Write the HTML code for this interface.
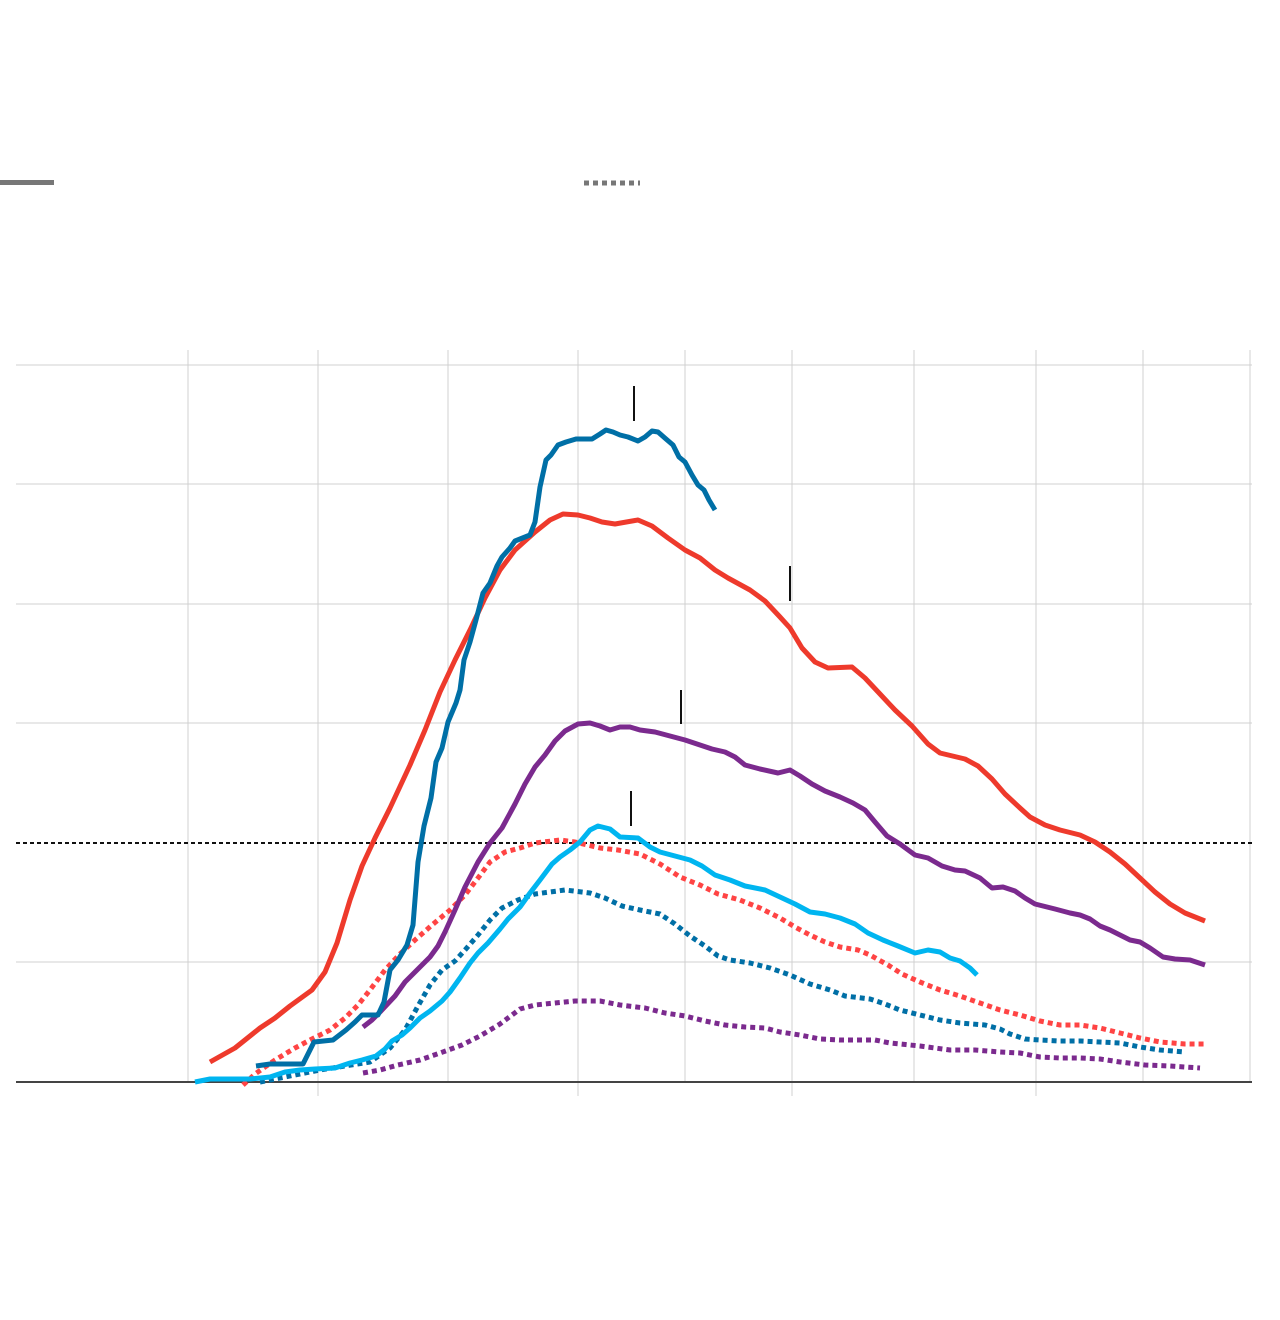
<!DOCTYPE html>
<html><head><meta charset="utf-8"><style>html,body{margin:0;padding:0;background:#fff}svg{display:block}</style></head>
<body>
<svg width="1280" height="1320" viewBox="0 0 1280 1320" xmlns="http://www.w3.org/2000/svg">
<g stroke="#d0d0d0" stroke-width="1">
<line x1="188" y1="350" x2="188" y2="1082"/>
<line x1="318" y1="350" x2="318" y2="1096"/>
<line x1="448" y1="350" x2="448" y2="1082"/>
<line x1="578" y1="350" x2="578" y2="1096"/>
<line x1="685" y1="350" x2="685" y2="1082"/>
<line x1="792" y1="350" x2="792" y2="1096"/>
<line x1="914" y1="350" x2="914" y2="1082"/>
<line x1="1036" y1="350" x2="1036" y2="1096"/>
<line x1="1143" y1="350" x2="1143" y2="1082"/>
<line x1="1250" y1="350" x2="1250" y2="1082"/>
<line x1="16" y1="365" x2="1252" y2="365"/>
<line x1="16" y1="484" x2="1252" y2="484"/>
<line x1="16" y1="604" x2="1252" y2="604"/>
<line x1="16" y1="723" x2="1252" y2="723"/>
<line x1="16" y1="962" x2="1252" y2="962"/>
</g>
<line x1="16" y1="843" x2="1252" y2="843" stroke="#111" stroke-width="2" stroke-dasharray="4 3"/>
<line x1="16" y1="1082" x2="1252" y2="1082" stroke="#444" stroke-width="2"/>
<line x1="0" y1="182.5" x2="54" y2="182.5" stroke="#777" stroke-width="5"/>
<line x1="584" y1="183" x2="640" y2="183" stroke="#777" stroke-width="5" stroke-dasharray="5 4"/>
<g fill="none" stroke-width="5" stroke-linejoin="round">
<polyline stroke="#f44" stroke-dasharray="5 4" points="243,1085 255,1074 275,1060 295,1048 310,1040 330,1030 345,1018 358,1005 370,990 385,970 400,954 415,940 432,925 450,910 465,895 478,878 490,862 505,852 520,848 535,843 560,840 575,842 600,848 618,850 640,854 660,864 680,877 700,885 718,894 740,900 760,908 780,918 795,927 810,935 825,942 840,947 858,950 870,955 888,965 902,974 920,982 940,990 960,996 980,1003 1000,1010 1020,1015 1040,1021 1060,1025 1080,1025 1100,1028 1120,1033 1140,1038 1160,1042 1185,1044 1205,1044"/>
<polyline stroke="#006fa6" stroke-dasharray="5 4" points="260,1082 280,1078 300,1074 320,1070 345,1066 370,1062 390,1048 405,1030 418,1006 430,985 442,970 455,961 465,950 478,935 490,920 502,908 518,900 535,894 550,892 565,890 590,893 605,898 622,906 640,910 660,914 675,924 690,936 705,946 718,956 730,960 750,963 770,968 790,975 810,984 830,990 845,996 870,999 885,1004 900,1010 920,1015 940,1020 960,1023 985,1025 1000,1029 1010,1034 1025,1039 1040,1040 1060,1041 1080,1041 1100,1042 1120,1043 1140,1047 1160,1050 1185,1052"/>
<polyline stroke="#7b2a8e" stroke-dasharray="5 4" points="363,1073 380,1070 398,1065 420,1060 440,1053 462,1045 480,1036 500,1024 520,1009 535,1005 555,1003 575,1001 600,1001 620,1005 645,1008 665,1013 685,1016 705,1021 725,1025 745,1027 765,1028 780,1032 800,1035 820,1039 840,1040 860,1040 875,1040 890,1043 920,1046 950,1050 975,1050 1000,1052 1020,1053 1040,1057 1060,1058 1080,1058 1100,1059 1120,1062 1145,1065 1170,1066 1200,1068"/>
<polyline stroke="#ee3a2c" points="210,1062 235,1048 260,1028 275,1018 290,1006 312,990 325,972 337,943 350,900 362,866 375,838 390,808 410,765 425,730 440,692 455,660 470,630 485,598 500,570 515,550 535,532 550,520 563,514 578,515 590,518 602,522 615,524 638,520 652,526 668,538 685,550 700,558 715,570 728,578 750,590 765,601 780,617 790,628 802,648 815,662 828,668 852,667 865,678 880,694 895,710 912,726 928,744 940,753 965,759 978,766 992,779 1005,794 1020,808 1030,817 1045,825 1060,830 1080,835 1095,842 1110,852 1125,864 1140,878 1155,892 1170,904 1185,913 1205,921"/>
<polyline stroke="#7b2a8e" points="363,1027 372,1020 380,1012 395,996 405,982 418,969 430,957 438,946 445,932 455,910 465,887 478,862 490,843 502,828 515,804 525,784 535,767 545,755 555,741 565,731 578,724 590,723 600,726 610,730 620,727 630,727 640,730 655,732 670,736 685,740 700,745 712,749 725,752 735,757 745,765 760,769 778,773 790,770 800,776 812,784 825,791 840,797 853,803 865,810 875,822 887,836 900,844 915,855 928,858 942,866 955,870 965,871 980,878 992,888 1003,887 1015,891 1025,898 1035,904 1055,909 1070,913 1080,915 1090,919 1100,926 1110,930 1130,940 1140,942 1150,948 1163,957 1175,959 1190,960 1205,965"/>
<polyline stroke="#00b5f0" points="195,1082 210,1079 250,1079 270,1077 285,1072 300,1070 315,1069 335,1068 350,1063 362,1060 376,1056 385,1049 392,1041 402,1035 410,1028 420,1018 430,1011 442,1001 450,992 460,978 470,963 478,953 488,943 500,929 508,919 520,907 530,893 540,880 552,864 560,857 570,850 580,842 590,830 598,826 610,829 620,837 638,838 650,847 660,852 675,856 690,860 702,866 715,875 730,880 745,886 765,890 780,897 795,904 810,912 825,914 840,918 855,924 868,933 883,940 898,946 915,953 928,950 940,952 950,958 960,961 970,968 977,975"/>
<polyline stroke="#006fa6" points="256,1066 270,1064 303,1064 314,1042 333,1040 346,1030 355,1022 362,1015 378,1015 384,1002 390,970 398,960 407,945 413,925 418,862 424,826 431,798 436,762 442,748 448,722 456,703 460,690 464,660 470,642 476,620 483,593 490,583 497,566 502,557 510,548 515,541 530,535 535,522 540,487 546,460 551,455 558,445 566,442 576,439 592,439 600,434 606,430 613,432 620,435 628,437 638,441 645,437 652,431 658,432 666,439 673,445 679,457 685,462 692,475 698,485 704,490 709,500 715,510"/>
</g>
<g stroke="#111" stroke-width="2">
<line x1="634" y1="386" x2="634" y2="421"/>
<line x1="790" y1="566" x2="790" y2="601"/>
<line x1="681" y1="690" x2="681" y2="724"/>
<line x1="631" y1="791" x2="631" y2="826"/>
</g>
</svg>
</body></html>
